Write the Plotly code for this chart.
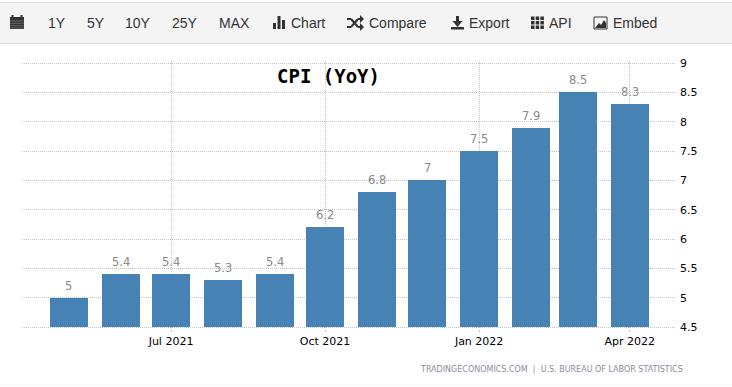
import plotly.graph_objects as go

months = ["2021-05-01","2021-06-01","2021-07-01","2021-08-01","2021-09-01","2021-10-01",
          "2021-11-01","2021-12-01","2022-01-01","2022-02-01","2022-03-01","2022-04-01"]
values = [5, 5.4, 5.4, 5.3, 5.4, 6.2, 6.8, 7, 7.5, 7.9, 8.5, 8.3]
value_labels = ["5","5.4","5.4","5.3","5.4","6.2","6.8","7","7.5","7.9","8.5","8.3"]
x_ticks = ["2021-07-01","2021-10-01","2022-01-01","2022-04-01"]
x_tick_labels = ["Jul 2021","Oct 2021","Jan 2022","Apr 2022"]
y_ticks = [4.5,5,5.5,6,6.5,7,7.5,8,8.5,9]
y_tick_labels = ["4.5","5","5.5","6","6.5","7","7.5","8","8.5","9"]
y_floor = 4.5
toolbar_ranges = [("1Y",57),("5Y",96),("10Y",138),("25Y",185),("MAX",234.5)]
toolbar_items = [("Chart",308),("Compare",398),("Export",489),("API",560),("Embed",635)]

L, R, T, B = 22, 675, 61, 329
W, H = R - L, B - T
def px(x): return (x - L) / W
def py(y): return (B - y) / H

DAY = 86400000
fig = go.Figure(go.Bar(
    x=months, y=[v - y_floor for v in values], base=y_floor,
    width=22.7 * DAY, marker=dict(color="#4682b4", line=dict(width=0)),
    hoverinfo="skip"))

shapes, annos = [], []
def rect(x0, y0, x1, y1, fill, line=None):
    shapes.append(dict(type="rect", xref="paper", yref="paper", x0=px(x0), x1=px(x1),
                       y0=py(y0), y1=py(y1), fillcolor=fill,
                       line=dict(width=1 if line else 0, color=line or fill), layer="above"))
def seg(x0, y0, x1, y1, color, w=2):
    shapes.append(dict(type="line", xref="paper", yref="paper", x0=px(x0), x1=px(x1),
                       y0=py(y0), y1=py(y1), line=dict(color=color, width=w), layer="above"))
def text(x, y, s, size, color, family, anchor="center", bold=False):
    annos.append(dict(xref="paper", yref="paper", x=px(x), y=py(y), text=f"<b>{s}</b>" if bold else s,
                      showarrow=False, xanchor=anchor, yanchor="middle",
                      font=dict(size=size, color=color, family=family)))

for m, v, s in zip(months, values, value_labels):
    annos.append(dict(x=m, y=v, text=s, showarrow=False, yanchor="middle", yshift=12,
                      font=dict(size=11.5, color="#8a8a8a", family="DejaVu Sans")))

DARK = "#333333"
rect(-2, 2.5, 734, 43.5, "#f4f4f4", "#dddddd")
seg(0, 385, 732, 385, "#f4f4f4", 1)
for s, x in toolbar_ranges:
    text(x, 23, s, 14, DARK, "Liberation Sans")
for s, x in toolbar_items:
    text(x, 23, s, 14, DARK, "Liberation Sans")

# calendar icon
rect(10, 17, 24, 29, DARK)
rect(11.5, 15, 13.5, 18, DARK); rect(20.5, 15, 22.5, 18, DARK)
for i in range(4):
    seg(10, 21 + i * 2.3, 24, 21 + i * 2.3, "#8a8a8a", 0.6)
# chart icon
rect(273, 23, 276, 29, DARK); rect(277.5, 16, 280.5, 29, DARK); rect(282, 20, 285, 29, DARK)
# shuffle icon
seg(347, 19, 351, 19, DARK); seg(351, 19, 358, 27, DARK); seg(358, 27, 361, 27, DARK)
seg(347, 27, 351, 27, DARK); seg(351, 27, 358, 19, DARK); seg(358, 19, 361, 19, DARK)
for y in (19, 27):
    shapes.append(dict(type="path", xref="paper", yref="paper", layer="above", fillcolor=DARK, line=dict(width=0),
        path=f"M {px(360)} {py(y-4)} L {px(364)} {py(y)} L {px(360)} {py(y+4)} Z"))
# export icon
rect(451, 27, 464, 29.5, DARK)
rect(456, 16, 459, 23, DARK)
shapes.append(dict(type="path", xref="paper", yref="paper", layer="above", fillcolor=DARK, line=dict(width=0),
    path=f"M {px(452.5)} {py(21)} L {px(462.5)} {py(21)} L {px(457.5)} {py(27)} Z"))
# API icon
for i in range(3):
    for j in range(3):
        rect(531 + i * 4.7, 16.5 + j * 4.5, 534.5 + i * 4.7, 20 + j * 4.5, DARK)
# embed icon
rect(594, 17, 607, 29, "#f4f4f4", DARK)
shapes.append(dict(type="path", xref="paper", yref="paper", layer="above", fillcolor=DARK, line=dict(width=0),
    path=f"M {px(595)} {py(28)} L {px(599)} {py(23)} L {px(601)} {py(25)} L {px(604)} {py(20)} L {px(606)} {py(23)} L {px(606)} {py(28)} Z"))

text(328, 76, "CPI (YoY)", 19, "#000000", "DejaVu Sans Mono", bold=True)
text(685, 369, "TRADINGECONOMICS.COM  |  U.S. BUREAU OF LABOR STATISTICS", 8, "#8c8c9c", "DejaVu Sans", anchor="right")

grid = dict(showgrid=True, gridcolor="#c4c4c4", griddash="1px,1px", gridwidth=1, zeroline=False, showline=False)
fig.update_layout(
    width=732, height=387, margin=dict(l=L, r=732 - R, t=T, b=387 - B),
    paper_bgcolor="#ffffff", plot_bgcolor="#ffffff", showlegend=False,
    shapes=shapes, annotations=annos, bargap=0,
    xaxis=dict(type="date", range=["2021-04-03", "2022-04-28"], tickmode="array",
               tickvals=x_ticks, ticktext=x_tick_labels, ticks="outside", ticklen=2,
               tickcolor="#c8c8c8", tickfont=dict(family="DejaVu Sans", size=11, color="#000000"), **grid),
    yaxis=dict(range=[4.5 - 2 / 58.67, 9 + 2 / 58.67], side="right", tickmode="array",
               tickvals=y_ticks, ticktext=y_tick_labels, ticklabelstandoff=4,
               tickfont=dict(family="DejaVu Sans", size=11, color="#000000"), **grid),
)
fig.write_html("out.html", config={"displayModeBar": False},
               post_script="document.body.style.margin='0';document.body.style.overflow='hidden';")
